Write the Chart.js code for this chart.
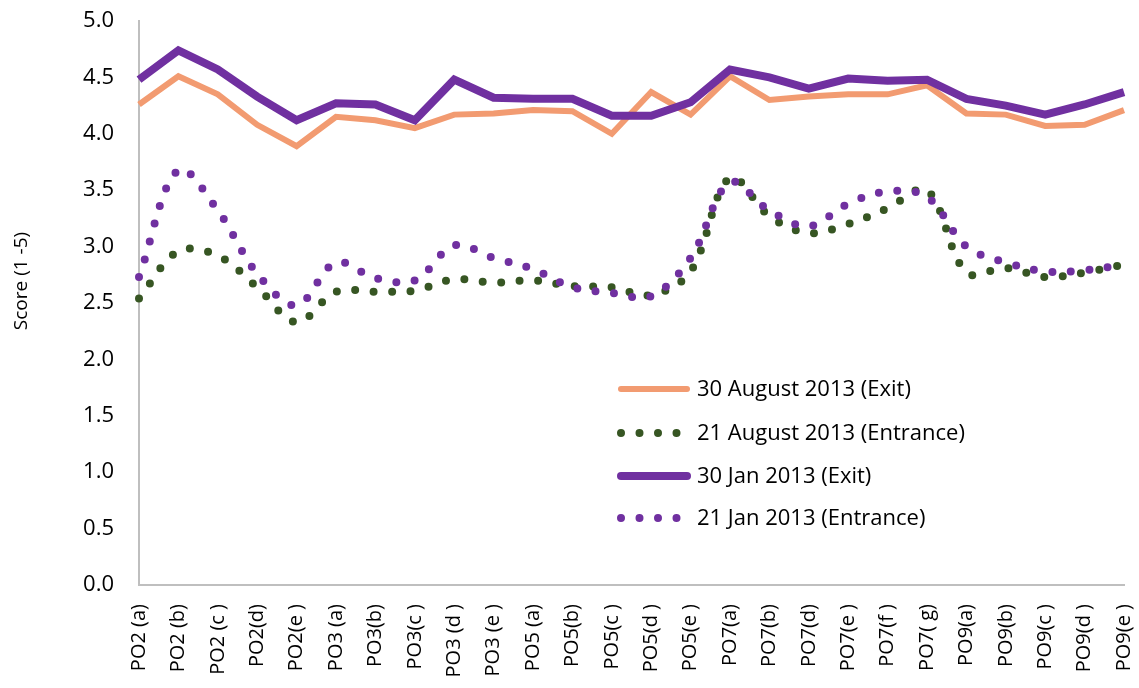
<!DOCTYPE html>
<html>
<head>
<meta charset="utf-8">
<script src="https://cdn.jsdelivr.net/npm/chart.js@4"></script>
<style>
  html, body { margin: 0; padding: 0; background: #fff; }
  #wrap { width: 1139px; height: 688px; position: relative; }
</style>
</head>
<body>
<div id="wrap"><canvas id="line-chart"></canvas></div>
<script>
const labels = ["PO2 (a)", "PO2 (b)", "PO2 (c )", "PO2(d)", "PO2(e )", "PO3 (a)", "PO3(b)", "PO3(c )", "PO3 (d )", "PO3 (e )",
  "PO5 (a)", "PO5(b)", "PO5(c )", "PO5(d )", "PO5(e )", "PO7(a)", "PO7(b)", "PO7(d)", "PO7(e )", "PO7(f )",
  "PO7( g)", "PO9(a)", "PO9(b)", "PO9(c )", "PO9(d )", "PO9(e )"];

const augExit = [4.26, 4.51, 4.35, 4.08, 3.89, 4.15, 4.12, 4.05, 4.17, 4.18, 4.21, 4.20, 4.00, 4.37, 4.17, 4.51, 4.30, 4.33, 4.35, 4.35, 4.43, 4.18, 4.17, 4.07, 4.08, 4.21];
const augEntrance = [2.54, 2.96, 2.92, 2.64, 2.33, 2.60, 2.60, 2.61, 2.71, 2.68, 2.70, 2.65, 2.64, 2.57, 2.78, 3.61, 3.27, 3.12, 3.20, 3.34, 3.50, 2.77, 2.81, 2.73, 2.77, 2.84];
const janExit = [4.48, 4.74, 4.57, 4.33, 4.12, 4.27, 4.26, 4.12, 4.48, 4.32, 4.31, 4.31, 4.16, 4.16, 4.28, 4.57, 4.50, 4.40, 4.49, 4.47, 4.48, 4.31, 4.25, 4.17, 4.26, 4.37];
const janEntrance = [2.73, 3.68, 3.32, 2.76, 2.48, 2.86, 2.72, 2.70, 3.01, 2.90, 2.80, 2.64, 2.59, 2.56, 2.90, 3.57, 3.32, 3.18, 3.38, 3.49, 3.44, 3.00, 2.86, 2.78, 2.79, 2.84];

const seriesNames = ["30 August 2013 (Exit)", "21 August 2013 (Entrance)", "30 Jan 2013 (Exit)", "21 Jan 2013 (Entrance)"];
const yTitle = "Score (1 -5)";

const FONT = "'Open Sans', sans-serif";
const orange = "#F29B71";
const green = "#375623";
const purple = "#7030A0";

// legend sits inside the plot like the Excel one, plus the y title
const extras = {
  id: "extras",
  afterDraw(chart) {
    const ctx = chart.ctx;
    const x0 = 618, x1 = 690, tx = 697;
    const rows = [389, 433, 476, 518];
    ctx.save();
    ctx.font = "22px " + FONT;
    ctx.textBaseline = "middle";
    ctx.fillStyle = "#000";
    chart.data.datasets.forEach((ds, i) => {
      const y = rows[i];
      ctx.strokeStyle = ds.borderColor;
      ctx.lineWidth = ds.borderWidth;
      ctx.lineCap = "round";
      ctx.setLineDash(ds.borderDash || []);
      ctx.beginPath();
      ctx.moveTo(x0 + 3, y);
      ctx.lineTo(ds.borderDash ? x1 - 10 : x1 - 3, y);
      ctx.stroke();
      ctx.setLineDash([]);
      ctx.fillText(ds.label, tx, y + 1);
    });

    ctx.font = "19px " + FONT;
    ctx.textAlign = "center";
    ctx.translate(22, 281);
    ctx.rotate(-Math.PI / 2);
    ctx.fillText(yTitle, 0, 0);
    ctx.restore();
  }
};

new Chart(document.getElementById("line-chart"), {
  type: "line",
  data: {
    labels: labels,
    datasets: [
      { label: seriesNames[0], data: augExit, borderColor: orange, borderWidth: 6, tension: 0, order: 4 },
      { label: seriesNames[1], data: augEntrance, borderColor: green, borderWidth: 8, borderDash: [0, 18.5], borderCapStyle: "round", tension: 0.35, order: 3 },
      { label: seriesNames[2], data: janExit, borderColor: purple, borderWidth: 8, tension: 0, order: 2 },
      { label: seriesNames[3], data: janEntrance, borderColor: purple, borderWidth: 8, borderDash: [0, 18.5], borderCapStyle: "round", tension: 0.35, order: 1 },
    ],
  },
  options: {
    responsive: true,
    maintainAspectRatio: false,
    animation: false,
    layout: { padding: { top: 21, right: 0, left: 0, bottom: 0 } },
    elements: { point: { radius: 0, hoverRadius: 0 } },
    plugins: {
      legend: { display: false },
      tooltip: { enabled: false },
    },
    scales: {
      x: {
        type: "category",
        offset: false,
        grid: { display: false, drawTicks: false },
        border: { display: true, color: "#BFBFBF", width: 2 },
        ticks: { autoSkip: false, maxRotation: 90, minRotation: 90, padding: 19, color: "#000", font: { family: FONT, size: 20 } },
        afterFit(scale) {
          scale.height = 103;
          scale.paddingLeft = 0;
          scale.paddingRight = 15;
        },
      },
      y: {
        min: 0,
        max: 5,
        grid: { display: false, drawTicks: false },
        border: { display: true, color: "#BFBFBF", width: 2 },
        ticks: { stepSize: 0.5, padding: 25, color: "#000", font: { family: FONT, size: 22 },
          callback: (v) => Number(v).toFixed(1) },
        afterFit(scale) {
          scale.width = 139;
          scale.paddingTop = 0;
          scale.paddingBottom = 0;
        },
      },
    },
  },
  plugins: [extras],
});
</script>
</body>
</html>
